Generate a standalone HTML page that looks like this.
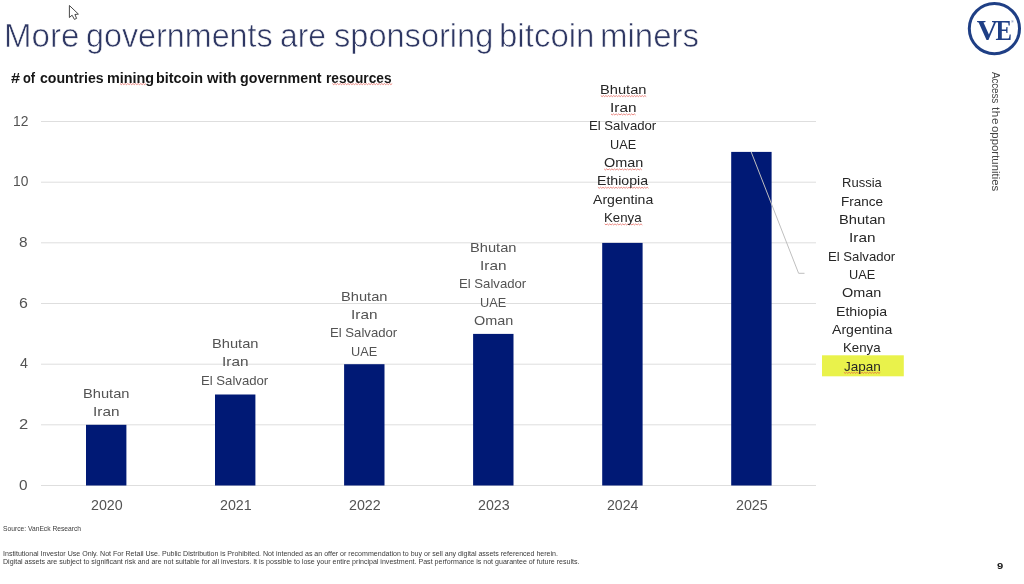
<!DOCTYPE html>
<html lang="en">
<head>
<meta charset="utf-8">
<title>More governments are sponsoring bitcoin miners</title>
<style>
html,body{margin:0;padding:0;background:#fff;}
body{width:1024px;height:584px;position:relative;overflow:hidden;font-family:'Liberation Sans',sans-serif;}
.t{position:absolute;white-space:nowrap;line-height:normal;transform-origin:0 0;font-family:'Liberation Sans',sans-serif;}
.ttl{-webkit-text-stroke:0.62px #fff;}
h1,h2,div{margin:0;padding:0;font-size:inherit;font-weight:inherit;}
.abs{position:absolute;}
</style>
</head>
<body>
<svg class="abs" style="left:0;top:0" width="1024" height="584" viewBox="0 0 1024 584">
<line x1="41" x2="816" y1="121.5" y2="121.5" stroke="#dedede" stroke-width="1"/><line x1="41" x2="816" y1="182.2" y2="182.2" stroke="#dedede" stroke-width="1"/><line x1="41" x2="816" y1="242.8" y2="242.8" stroke="#dedede" stroke-width="1"/><line x1="41" x2="816" y1="303.5" y2="303.5" stroke="#dedede" stroke-width="1"/><line x1="41" x2="816" y1="364.2" y2="364.2" stroke="#dedede" stroke-width="1"/><line x1="41" x2="816" y1="424.8" y2="424.8" stroke="#dedede" stroke-width="1"/><line x1="41" x2="816" y1="485.5" y2="485.5" stroke="#dedede" stroke-width="1"/>
<rect x="86.0" y="424.8" width="40.4" height="60.7" fill="#001975"/><rect x="215.0" y="394.5" width="40.4" height="91.0" fill="#001975"/><rect x="344.1" y="364.2" width="40.4" height="121.3" fill="#001975"/><rect x="473.1" y="333.9" width="40.4" height="151.6" fill="#001975"/><rect x="602.2" y="242.9" width="40.4" height="242.6" fill="#001975"/><rect x="731.2" y="151.9" width="40.4" height="333.6" fill="#001975"/>
  <polyline points="751.2,152 798.6,273.3 804.5,273.3" fill="none" stroke="#bfbfbf" stroke-width="1"/>
  <rect x="822" y="355.3" width="81.8" height="21" fill="#e9f24b"/>
<polyline points="120.0,83.55 121.3,84.65 122.6,83.55 123.9,84.65 125.2,83.55 126.5,84.65 127.8,83.55 129.1,84.65 130.4,83.55 131.7,84.65 133.0,83.55 134.3,84.65 135.6,83.55 136.9,84.65 138.2,83.55 139.5,84.65 140.8,83.55 142.1,84.65 143.4,83.55 144.7,84.65 146.0,83.55" fill="none" stroke="#e0483c" stroke-width="0.7" opacity="0.9"/>
<polyline points="332.4,83.55 333.7,84.65 335.0,83.55 336.3,84.65 337.6,83.55 338.9,84.65 340.2,83.55 341.5,84.65 342.8,83.55 344.1,84.65 345.4,83.55 346.7,84.65 348.0,83.55 349.3,84.65 350.6,83.55 351.9,84.65 353.2,83.55 354.5,84.65 355.8,83.55 357.1,84.65 358.4,83.55 359.7,84.65 361.0,83.55 362.3,84.65 363.6,83.55 364.9,84.65 366.2,83.55 367.5,84.65 368.8,83.55 370.1,84.65 371.4,83.55 372.7,84.65 374.0,83.55 375.3,84.65 376.6,83.55 377.9,84.65 379.2,83.55 380.5,84.65 381.8,83.55 383.1,84.65 384.4,83.55 385.7,84.65 387.0,83.55 388.3,84.65 389.6,83.55 390.9,84.65 392.2,83.55" fill="none" stroke="#e0483c" stroke-width="0.7" opacity="0.9"/>
<polyline points="600.8,95.55 602.1,96.65 603.4,95.55 604.6,96.65 605.9,95.55 607.2,96.65 608.5,95.55 609.8,96.65 611.1,95.55 612.4,96.65 613.7,95.55 615.0,96.65 616.3,95.55 617.6,96.65 618.9,95.55 620.2,96.65 621.5,95.55 622.8,96.65 624.1,95.55 625.4,96.65 626.7,95.55 628.0,96.65 629.3,95.55 630.6,96.65 631.9,95.55 633.2,96.65 634.5,95.55 635.8,96.65 637.1,95.55 638.4,96.65 639.7,95.55 641.0,96.65 642.3,95.55 643.6,96.65 644.9,95.55 646.2,96.65" fill="none" stroke="#e0483c" stroke-width="0.7" opacity="0.9"/>
<polyline points="611.0,113.88 612.2,114.98 613.5,113.88 614.8,114.98 616.1,113.88 617.4,114.98 618.7,113.88 620.0,114.98 621.3,113.88 622.6,114.98 623.9,113.88 625.2,114.98 626.5,113.88 627.8,114.98 629.1,113.88 630.4,114.98 631.7,113.88 633.0,114.98 634.3,113.88 635.6,114.98" fill="none" stroke="#e0483c" stroke-width="0.7" opacity="0.9"/>
<polyline points="604.1,168.87 605.4,169.97 606.7,168.87 608.0,169.97 609.3,168.87 610.6,169.97 611.9,168.87 613.2,169.97 614.5,168.87 615.8,169.97 617.1,168.87 618.4,169.97 619.7,168.87 621.0,169.97 622.3,168.87 623.6,169.97 624.9,168.87 626.2,169.97 627.5,168.87 628.8,169.97 630.1,168.87 631.4,169.97 632.7,168.87 634.0,169.97 635.3,168.87 636.6,169.97 637.9,168.87 639.2,169.97 640.5,168.87 641.8,169.97" fill="none" stroke="#e0483c" stroke-width="0.7" opacity="0.9"/>
<polyline points="597.9,187.20 599.2,188.30 600.5,187.20 601.8,188.30 603.0,187.20 604.3,188.30 605.6,187.20 606.9,188.30 608.2,187.20 609.5,188.30 610.8,187.20 612.1,188.30 613.4,187.20 614.7,188.30 616.0,187.20 617.3,188.30 618.6,187.20 619.9,188.30 621.2,187.20 622.5,188.30 623.8,187.20 625.1,188.30 626.4,187.20 627.7,188.30 629.0,187.20 630.3,188.30 631.6,187.20 632.9,188.30 634.2,187.20 635.5,188.30 636.8,187.20 638.1,188.30 639.4,187.20 640.7,188.30 642.0,187.20 643.3,188.30 644.6,187.20 645.9,188.30 647.2,187.20 648.5,188.30" fill="none" stroke="#e0483c" stroke-width="0.7" opacity="0.9"/>
<polyline points="604.7,223.86 606.0,224.96 607.2,223.86 608.5,224.96 609.8,223.86 611.1,224.96 612.4,223.86 613.7,224.96 615.0,223.86 616.3,224.96 617.6,223.86 618.9,224.96 620.2,223.86 621.5,224.96 622.8,223.86 624.1,224.96 625.4,223.86 626.7,224.96 628.0,223.86 629.3,224.96 630.6,223.86 631.9,224.96 633.2,223.86 634.5,224.96 635.8,223.86 637.1,224.96 638.4,223.86 639.7,224.96 641.0,223.86 642.3,224.96" fill="none" stroke="#e0483c" stroke-width="0.7" opacity="0.9"/>
<polyline points="843.9,372.25 845.2,373.35 846.5,372.25 847.8,373.35 849.1,372.25 850.4,373.35 851.7,372.25 853.0,373.35 854.3,372.25 855.6,373.35 856.9,372.25 858.2,373.35 859.5,372.25 860.8,373.35 862.1,372.25 863.4,373.35 864.7,372.25 866.0,373.35 867.3,372.25 868.6,373.35 869.9,372.25 871.2,373.35 872.5,372.25 873.8,373.35 875.1,372.25 876.4,373.35 877.7,372.25 879.0,373.35 880.3,372.25" fill="none" stroke="#e0483c" stroke-width="0.7" opacity="0.9"/>
  <!-- mouse cursor -->
  <path d="M69.4 5.5 L69.4 17.5 L72.1 15.2 L74.4 19.4 L76.6 18.4 L74.9 14.5 L78.4 14.1 Z" fill="#fff" stroke="#333" stroke-width="0.9" stroke-linejoin="round"/>
  <!-- logo -->
  <circle cx="994.4" cy="28.6" r="25.1" fill="#fff" stroke="#1f3f85" stroke-width="3"/>
  <text x="976.75" y="39.6" font-family="'Liberation Serif',serif" font-weight="bold" font-size="29.5" fill="#1f3f85">V</text>
  <text transform="translate(995.5,39.6) scale(0.84,1)" font-family="'Liberation Serif',serif" font-weight="bold" font-size="29.5" fill="#1f3f85" stroke="#fff" stroke-width="0" >E</text>
  <text x="1011.2" y="23.2" font-family="'Liberation Sans',sans-serif" font-size="3.2" fill="#1f3f85">®</text>
</svg>
<h1 id="title">
<span class="t ttl" style="left:3.53px;top:16.80px;font-size:32.8px;font-weight:normal;color:#2e3763;transform:scaleX(1.0085);">More</span>
<span class="t ttl" style="left:86.17px;top:16.80px;font-size:32.8px;font-weight:normal;color:#2e3763;transform:scaleX(0.9848);">governments</span>
<span class="t ttl" style="left:279.84px;top:16.80px;font-size:32.8px;font-weight:normal;color:#2e3763;transform:scaleX(0.9708);">are</span>
<span class="t ttl" style="left:334.41px;top:16.80px;font-size:32.8px;font-weight:normal;color:#2e3763;transform:scaleX(0.9927);">sponsoring</span>
<span class="t ttl" style="left:499.39px;top:16.80px;font-size:32.8px;font-weight:normal;color:#2e3763;transform:scaleX(1.0072);">bitcoin</span>
<span class="t ttl" style="left:600.44px;top:16.80px;font-size:32.8px;font-weight:normal;color:#2e3763;transform:scaleX(1.0063);">miners</span>
</h1>
<h2 id="subtitle">
<span class="t" style="left:11.01px;top:69.80px;font-size:14.2px;font-weight:bold;color:#161616;transform:scaleX(1.1467);">#</span>
<span class="t" style="left:22.95px;top:69.80px;font-size:14.2px;font-weight:bold;color:#161616;transform:scaleX(0.9077);">of</span>
<span class="t" style="left:39.50px;top:69.80px;font-size:14.2px;font-weight:bold;color:#161616;transform:scaleX(0.9960);">countries</span>
<span class="t" style="left:106.59px;top:69.80px;font-size:14.2px;font-weight:bold;color:#161616;transform:scaleX(1.0135);">mining</span>
<span class="t" style="left:156.19px;top:69.80px;font-size:14.2px;font-weight:bold;color:#161616;transform:scaleX(1.0135);">bitcoin</span>
<span class="t" style="left:207.40px;top:69.80px;font-size:14.2px;font-weight:bold;color:#161616;transform:scaleX(1.0436);">with</span>
<span class="t" style="left:240.10px;top:69.80px;font-size:14.2px;font-weight:bold;color:#161616;transform:scaleX(1.0050);">government</span>
<span class="t" style="left:326.03px;top:69.80px;font-size:14.2px;font-weight:bold;color:#161616;transform:scaleX(0.9660);">resources</span>
</h2>
<div id="yaxis">
<span class="t" style="left:12.61px;top:113.00px;font-size:14px;font-weight:normal;color:#535353;transform:scaleX(0.9857);">12</span>
<span class="t" style="left:12.61px;top:173.00px;font-size:14px;font-weight:normal;color:#535353;transform:scaleX(0.9857);">10</span>
<span class="t" style="left:19.45px;top:234.00px;font-size:14px;font-weight:normal;color:#535353;transform:scaleX(1.0963);">8</span>
<span class="t" style="left:19.15px;top:295.00px;font-size:14px;font-weight:normal;color:#535353;transform:scaleX(1.1385);">6</span>
<span class="t" style="left:19.74px;top:355.00px;font-size:14px;font-weight:normal;color:#535353;transform:scaleX(1.0207);">4</span>
<span class="t" style="left:19.11px;top:416.00px;font-size:14px;font-weight:normal;color:#535353;transform:scaleX(1.1840);">2</span>
<span class="t" style="left:19.45px;top:477.00px;font-size:14px;font-weight:normal;color:#535353;transform:scaleX(1.0963);">0</span>
</div>
<div id="xaxis">
<span class="t" style="left:90.59px;top:496.80px;font-size:14px;font-weight:normal;color:#535353;transform:scaleX(1.0185);">2020</span>
<span class="t" style="left:219.63px;top:496.80px;font-size:14px;font-weight:normal;color:#535353;transform:scaleX(1.0185);">2021</span>
<span class="t" style="left:348.67px;top:496.80px;font-size:14px;font-weight:normal;color:#535353;transform:scaleX(1.0185);">2022</span>
<span class="t" style="left:477.71px;top:496.80px;font-size:14px;font-weight:normal;color:#535353;transform:scaleX(1.0185);">2023</span>
<span class="t" style="left:606.75px;top:496.80px;font-size:14px;font-weight:normal;color:#535353;transform:scaleX(1.0100);">2024</span>
<span class="t" style="left:735.79px;top:496.80px;font-size:14px;font-weight:normal;color:#535353;transform:scaleX(1.0185);">2025</span>
</div>
<div id="labels-2020">
<span class="t" style="left:83.05px;top:385.75px;font-size:13.33px;font-weight:normal;color:#535353;transform:scaleX(1.1006);">Bhutan</span>
<span class="t" style="left:92.91px;top:404.00px;font-size:13.33px;font-weight:normal;color:#535353;transform:scaleX(1.1518);">Iran</span>
</div>
<div id="labels-2021">
<span class="t" style="left:212.09px;top:336.10px;font-size:13.33px;font-weight:normal;color:#535353;transform:scaleX(1.1006);">Bhutan</span>
<span class="t" style="left:221.95px;top:354.35px;font-size:13.33px;font-weight:normal;color:#535353;transform:scaleX(1.1518);">Iran</span>
<span class="t" style="left:201.30px;top:372.60px;font-size:13.33px;font-weight:normal;color:#535353;transform:scaleX(0.9866);">El Salvador</span>
</div>
<div id="labels-2022">
<span class="t" style="left:341.13px;top:288.85px;font-size:13.33px;font-weight:normal;color:#535353;transform:scaleX(1.1006);">Bhutan</span>
<span class="t" style="left:350.99px;top:307.10px;font-size:13.33px;font-weight:normal;color:#535353;transform:scaleX(1.1518);">Iran</span>
<span class="t" style="left:330.34px;top:325.35px;font-size:13.33px;font-weight:normal;color:#535353;transform:scaleX(0.9866);">El Salvador</span>
<span class="t" style="left:351.12px;top:343.60px;font-size:13.33px;font-weight:normal;color:#535353;transform:scaleX(0.9553);">UAE</span>
</div>
<div id="labels-2023">
<span class="t" style="left:470.17px;top:239.80px;font-size:13.33px;font-weight:normal;color:#535353;transform:scaleX(1.1006);">Bhutan</span>
<span class="t" style="left:480.03px;top:258.05px;font-size:13.33px;font-weight:normal;color:#535353;transform:scaleX(1.1518);">Iran</span>
<span class="t" style="left:459.38px;top:276.30px;font-size:13.33px;font-weight:normal;color:#535353;transform:scaleX(0.9866);">El Salvador</span>
<span class="t" style="left:480.16px;top:294.55px;font-size:13.33px;font-weight:normal;color:#535353;transform:scaleX(0.9553);">UAE</span>
<span class="t" style="left:473.81px;top:312.80px;font-size:13.33px;font-weight:normal;color:#535353;transform:scaleX(1.0820);">Oman</span>
</div>
<div id="labels-2024">
<span class="t" style="left:599.95px;top:81.80px;font-size:13.33px;font-weight:normal;color:#262626;transform:scaleX(1.1006);">Bhutan</span>
<span class="t" style="left:609.81px;top:100.13px;font-size:13.33px;font-weight:normal;color:#262626;transform:scaleX(1.1518);">Iran</span>
<span class="t" style="left:589.16px;top:118.46px;font-size:13.33px;font-weight:normal;color:#262626;transform:scaleX(0.9866);">El Salvador</span>
<span class="t" style="left:609.94px;top:136.79px;font-size:13.33px;font-weight:normal;color:#262626;transform:scaleX(0.9553);">UAE</span>
<span class="t" style="left:603.59px;top:155.12px;font-size:13.33px;font-weight:normal;color:#262626;transform:scaleX(1.0820);">Oman</span>
<span class="t" style="left:597.09px;top:173.45px;font-size:13.33px;font-weight:normal;color:#262626;transform:scaleX(1.0603);">Ethiopia</span>
<span class="t" style="left:593.10px;top:191.78px;font-size:13.33px;font-weight:normal;color:#262626;transform:scaleX(1.0561);">Argentina</span>
<span class="t" style="left:603.96px;top:210.11px;font-size:13.33px;font-weight:normal;color:#262626;transform:scaleX(0.9932);">Kenya</span>
</div>
<div id="labels-2025">
<span class="t" style="left:841.72px;top:175.30px;font-size:13.33px;font-weight:normal;color:#262626;transform:scaleX(0.9761);">Russia</span>
<span class="t" style="left:840.79px;top:193.62px;font-size:13.33px;font-weight:normal;color:#262626;transform:scaleX(1.0150);">France</span>
<span class="t" style="left:838.85px;top:211.94px;font-size:13.33px;font-weight:normal;color:#262626;transform:scaleX(1.1006);">Bhutan</span>
<span class="t" style="left:848.71px;top:230.26px;font-size:13.33px;font-weight:normal;color:#262626;transform:scaleX(1.1518);">Iran</span>
<span class="t" style="left:828.06px;top:248.58px;font-size:13.33px;font-weight:normal;color:#262626;transform:scaleX(0.9866);">El Salvador</span>
<span class="t" style="left:848.84px;top:266.90px;font-size:13.33px;font-weight:normal;color:#262626;transform:scaleX(0.9553);">UAE</span>
<span class="t" style="left:842.49px;top:285.22px;font-size:13.33px;font-weight:normal;color:#262626;transform:scaleX(1.0820);">Oman</span>
<span class="t" style="left:835.99px;top:303.54px;font-size:13.33px;font-weight:normal;color:#262626;transform:scaleX(1.0603);">Ethiopia</span>
<span class="t" style="left:832.00px;top:321.86px;font-size:13.33px;font-weight:normal;color:#262626;transform:scaleX(1.0561);">Argentina</span>
<span class="t" style="left:842.86px;top:340.18px;font-size:13.33px;font-weight:normal;color:#262626;transform:scaleX(0.9932);">Kenya</span>
<span class="t" style="left:843.95px;top:358.50px;font-size:13.33px;font-weight:normal;color:#262626;transform:scaleX(1.0156);">Japan</span>
</div>
<div id="footer">
<span class="t" style="left:3.12px;top:525.30px;font-size:7px;font-weight:normal;color:#3a3a3a;transform:scaleX(0.9573);">Source: VanEck Research</span>
<span class="t" style="left:3.07px;top:550.10px;font-size:6.67px;font-weight:normal;color:#3a3a3a;transform:scaleX(1.0591);">Institutional Investor Use Only. Not For Retail Use. Public Distribution is Prohibited. Not intended as an offer or recommendation to buy or sell any digital assets referenced herein.</span>
<span class="t" style="left:3.07px;top:557.80px;font-size:6.67px;font-weight:normal;color:#3a3a3a;transform:scaleX(1.0614);">Digital assets are subject to significant risk and are not suitable for all investors. It is possible to lose your entire principal investment. Past performance is not guarantee of future results.</span>
<span class="t" style="left:997.21px;top:560.40px;font-size:9.7px;font-weight:bold;color:#1a1a1a;transform:scaleX(1.1579);">9</span>
</div>
<div id="tagline">
<span class="t" style="left:1001.00px;top:72.20px;font-size:10.4px;letter-spacing:-0.238px;color:#454545;transform:rotate(90deg) scaleX(0.9700);">Access</span>
<span class="t" style="left:1001.00px;top:107.22px;font-size:10.4px;letter-spacing:0.493px;color:#454545;transform:rotate(90deg) scaleX(1.1400);">the</span>
<span class="t" style="left:1001.00px;top:125.75px;font-size:10.4px;letter-spacing:-0.000px;color:#454545;transform:rotate(90deg) scaleX(1.0962);">opportunities</span>
</div>
</body>
</html>
